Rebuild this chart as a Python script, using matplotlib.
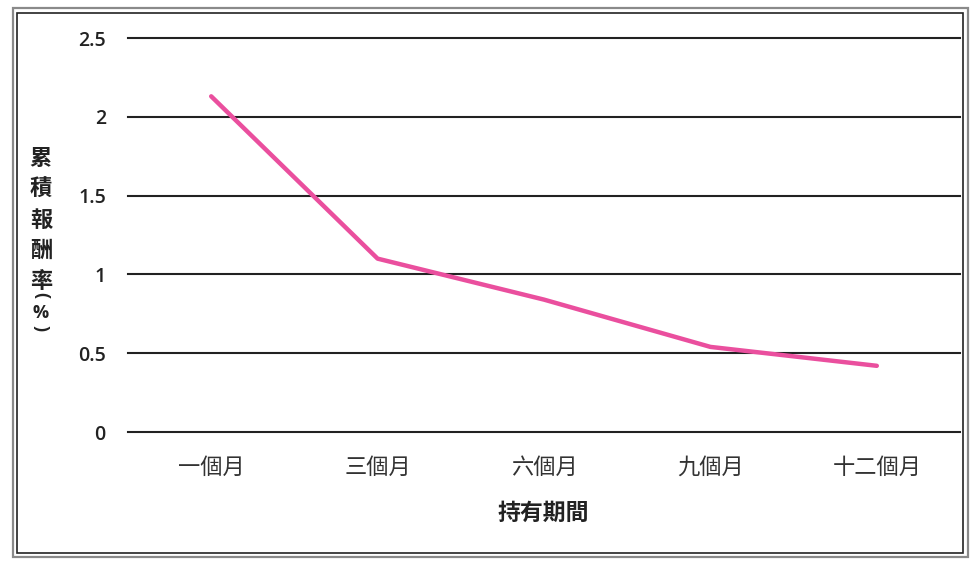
import matplotlib
matplotlib.use("Agg")
import matplotlib.pyplot as plt
from matplotlib.patches import Rectangle

categories = ["一個月", "三個月", "六個月", "九個月", "十二個月"]
returns = [2.13, 1.10, 0.84, 0.54, 0.42]
yticks = [0, 0.5, 1, 1.5, 2, 2.5]
ytick_labels = ["0", "0.5", "1", "1.5", "2", "2.5"]
xlabel = "持有期間"
ylabel_main = "累\n積\n報\n酬\n率"

plt.rcParams['font.family'] = ['Noto Sans CJK TC', 'DejaVu Sans']

W, H = 978, 571
fig = plt.figure(figsize=(W / 100, H / 100), dpi=100)
fig.patch.set_facecolor("white")

# frames
fig.patches.append(Rectangle((13 / W, 1 - 557 / H), 955 / W, 549 / H, transform=fig.transFigure,
                             fill=False, edgecolor="#8a8a8a", linewidth=1.6))
fig.patches.append(Rectangle((17 / W, 1 - 553 / H), 946 / W, 540 / H, transform=fig.transFigure,
                             fill=False, edgecolor="#222222", linewidth=1.2))

ax = fig.add_axes([128 / W, 1 - 432 / H, (960 - 128) / W, (432 - 38) / H])
x = list(range(len(categories)))
ax.plot(x, returns, color="#EA4F9E", linewidth=3.2, solid_capstyle="round", zorder=3)

ax.set_xlim(-0.5, len(categories) - 0.5)
ax.set_ylim(0, 2.5)
ax.set_yticks(yticks)
ax.set_yticklabels(ytick_labels, family=["Open Sans", "DejaVu Sans"], fontsize=14,
                   fontweight="semibold", color="#222222")
ax.set_xticks(x)
ax.set_xticklabels(categories, fontsize=16, color="#333333")
ax.tick_params(axis="y", length=0, pad=16)
ax.tick_params(axis="x", length=0, pad=17)
for s in ax.spines.values():
    s.set_visible(False)
ax.grid(axis="y", color="#222222", linewidth=1.5)
for gl in ax.get_ygridlines():
    gl.set_clip_on(False)
ax.set_axisbelow(True)

fig.text(543 / W, 1 - 513 / H, xlabel, ha="center", va="center", fontsize=16.5,
         fontweight="bold", color="#222222")

fig.text(41 / W, 1 - 220 / H, ylabel_main, ha="center", va="center", fontsize=16,
         fontweight="bold", color="#222222", linespacing=1.42,
         family=["Noto Sans CJK TC", "DejaVu Sans"])
fig.text(41 / W, 1 - 295 / H, "(", ha="center", va="center", fontsize=13, rotation=-90,
         fontweight="bold", color="#222222", family=["Open Sans", "DejaVu Sans"])
fig.text(41 / W, 1 - 313 / H, "%", ha="center", va="center", fontsize=13,
         fontweight="bold", color="#222222", family=["Open Sans", "DejaVu Sans"])
fig.text(41 / W, 1 - 328 / H, ")", ha="center", va="center", fontsize=13, rotation=-90,
         fontweight="bold", color="#222222", family=["Open Sans", "DejaVu Sans"])

fig.savefig("out.png", dpi=100)
